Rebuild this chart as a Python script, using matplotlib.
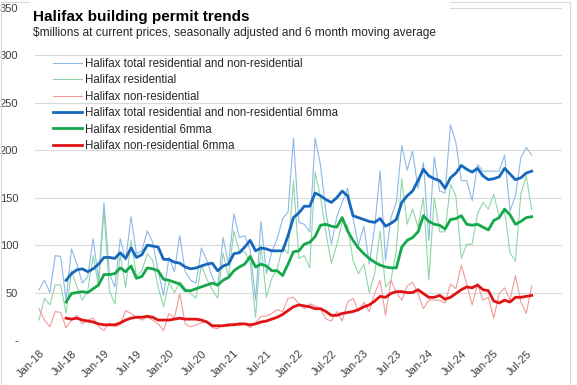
import matplotlib
matplotlib.use("Agg")
import numpy as np
import pandas as pd
from matplotlib import pyplot as plt
from matplotlib.patches import Rectangle

plt.rcParams["font.family"] = ["Liberation Sans Narrow", "Liberation Sans", "DejaVu Sans"]

# months Jan-18 .. Aug-25
months = pd.date_range("2018-01-01", "2025-08-01", freq="MS")

# raw monthly series ($ millions)
total = [53, 63, 50, 89, 88, 42, 96, 80, 60, 67, 107, 63, 145, 70, 56, 107, 84, 130, 91, 94,
         115, 103, 73, 47, 87, 72, 110, 72, 63, 60, 97, 84, 66, 56, 108, 80, 133, 108, 110, 95,
         42, 125, 70, 93, 107, 128, 135, 213, 124, 122, 114, 213, 184, 135, 101, 130, 145, 160, 128, 100,
         120, 80, 119, 178, 84, 129, 145, 205, 179, 199, 160, 187, 105, 193, 157, 155, 227, 208, 168, 168,
         147, 185, 178, 178, 178, 178, 195, 136, 152, 192, 203, 195]
residential = [21, 44, 37, 58, 58, 28, 73, 56, 42, 52, 89, 56, 136, 52, 38, 90, 55, 105, 67, 73,
               91, 84, 56, 35, 61, 50, 61, 55, 49, 44, 79, 64, 53, 44, 92, 66, 115, 93, 93, 82,
               24, 100, 45, 65, 75, 98, 91, 168, 86, 89, 76, 177, 151, 113, 81, 100, 125, 120, 84, 70,
               80, 50, 70, 115, 56, 63, 95, 170, 122, 138, 119, 150, 63, 150, 114, 114, 164, 152, 86, 101,
               101, 133, 145, 138, 154, 129, 136, 92, 83, 154, 173, 137]
non_residential = [33, 21, 14, 30, 29, 13, 21, 26, 17, 21, 23, 14, 10, 18, 14, 16, 31, 28, 24, 21,
                   24, 21, 17, 10, 28, 23, 49, 17, 14, 16, 18, 20, 13, 12, 16, 14, 18, 15, 17, 13,
                   18, 25, 25, 28, 32, 30, 44, 45, 38, 33, 38, 36, 33, 22, 20, 30, 20, 40, 44, 30,
                   40, 30, 49, 63, 26, 63, 50, 42, 57, 61, 49, 33, 42, 42, 42, 39, 59, 54, 79, 59,
                   37, 59, 42, 45, 23, 49, 55, 42, 68, 40, 28, 57]

# 6 month moving averages, starting Jun-18
total_6mma = [63, 70, 74, 75, 72, 75, 80, 87, 87, 86, 92, 86, 97, 87, 90, 100, 99, 98, 85, 85,
              82, 81, 77, 75, 76, 78, 80, 81, 73, 78, 80, 91, 92, 98, 105, 94, 97, 96, 94, 94,
              94, 110, 129, 134, 141, 141, 155, 152, 148, 145, 150, 157, 152, 131, 129, 127, 125, 124, 128, 120,
              123, 127, 145, 152, 157, 168, 180, 173, 170, 168, 160, 171, 176, 184, 180, 177, 181, 173, 169, 170,
              172, 181, 175, 169, 171, 176, 178]
residential_6mma = [40, 49, 50, 51, 50, 54, 58, 69, 69, 70, 76, 72, 78, 65, 67, 76, 75, 73, 64, 63,
                    61, 59, 52, 52, 54, 56, 58, 60, 58, 63, 66, 73, 77, 80, 88, 77, 80, 78, 73, 73,
                    68, 80, 93, 94, 101, 103, 109, 121, 122, 120, 119, 129, 115, 105, 97, 91, 86, 82, 79, 77,
                    76, 76, 98, 105, 108, 114, 131, 125, 122, 121, 117, 127, 128, 131, 122, 121, 122, 119, 116, 126,
                    129, 138, 132, 122, 125, 129, 130]
non_residential_6mma = [23, 22, 23, 21, 20, 19, 17, 16, 16, 16, 18, 21, 23, 24, 24, 25, 24, 21, 21, 21,
                        22, 23, 22, 22, 22, 21, 19, 15, 15, 15, 16, 16, 17, 17, 16, 17, 19, 20, 22, 24,
                        27, 31, 35, 37, 36, 35, 33, 33, 30, 26, 26, 28, 29, 30, 32, 35, 37, 41, 46, 45,
                        49, 51, 51, 50, 50, 53, 49, 45, 45, 47, 43, 45, 49, 53, 56, 55, 58, 53, 52, 41,
                        39, 42, 40, 45, 45, 46, 47]

tick_labels = [d.strftime("%b-%y") for d in months[::6]]

x = np.arange(len(months))
x_ma = x[5:]

fig = plt.figure(figsize=(5.77, 3.85), dpi=100)
ax = fig.add_axes([35 / 577, 1 - 340 / 385, (562 - 35) / 577, (340 - 8) / 385])

ax.plot(x, total, color="#8DB9E6", lw=0.8, label="Halifax total residential and non-residential")
ax.plot(x, residential, color="#8FD6A8", lw=0.8, label="Halifax residential")
ax.plot(x, non_residential, color="#F29A9A", lw=0.8, label="Halifax non-residential")
ax.plot(x_ma, total_6mma, color="#1668BD", lw=2.0, label="Halifax total residential and non-residential 6mma")
ax.plot(x_ma, residential_6mma, color="#14A84A", lw=2.0, label="Halifax residential 6mma")
ax.plot(x_ma, non_residential_6mma, color="#E01414", lw=2.0, label="Halifax non-residential 6mma")

ax.set_xlim(-0.74, 96.6)
ax.set_ylim(0, 350)
ax.set_yticks(range(0, 351, 50))
ax.set_yticklabels(["-"] + [str(v) for v in range(50, 351, 50)])
ax.set_xticks(x[::6])
ax.set_xticklabels(tick_labels, rotation=45, ha="right", rotation_mode="anchor")
ax.tick_params(axis="both", length=0, labelsize=8, colors="#404040")
ax.tick_params(axis="y", pad=12)
ax.tick_params(axis="x", pad=6)
for s in ax.spines.values():
    s.set_visible(False)
ax.grid(axis="y", color="#D9D9D9", lw=0.8)
ax.set_axisbelow(True)

leg = ax.legend(loc="upper left", bbox_to_anchor=(53 / 577, 1 - 58 / 385),
                bbox_transform=fig.transFigure, frameon=False, fontsize=8.3,
                handlelength=2.5, handletextpad=0.25, labelspacing=0.38, borderpad=0,
                borderaxespad=0)
for t in leg.get_texts():
    t.set_color("#262626")

# white title box like excel
fig.patches.append(Rectangle((30 / 577, 1 - 42 / 385), 420 / 577, 40 / 385,
                             transform=fig.transFigure, facecolor="white", edgecolor="none", zorder=2))
fig.text(33 / 577, 1 - 17 / 385, "Halifax building permit trends", fontsize=11,
         fontweight="bold", va="center", ha="left", zorder=3)
fig.text(33 / 577, 1 - 33 / 385,
         "$millions at current prices, seasonally adjusted and 6 month moving average",
         fontsize=8.6, va="center", ha="left", color="#262626", zorder=3)

fig.patches.append(Rectangle((0.5 / 577, 0.5 / 385), 1 - 8 / 577, 1 - 2 / 385,
                             transform=fig.transFigure, facecolor="none", edgecolor="#D9D9D9", lw=0.8))

plt.savefig("out.png", dpi=100)
